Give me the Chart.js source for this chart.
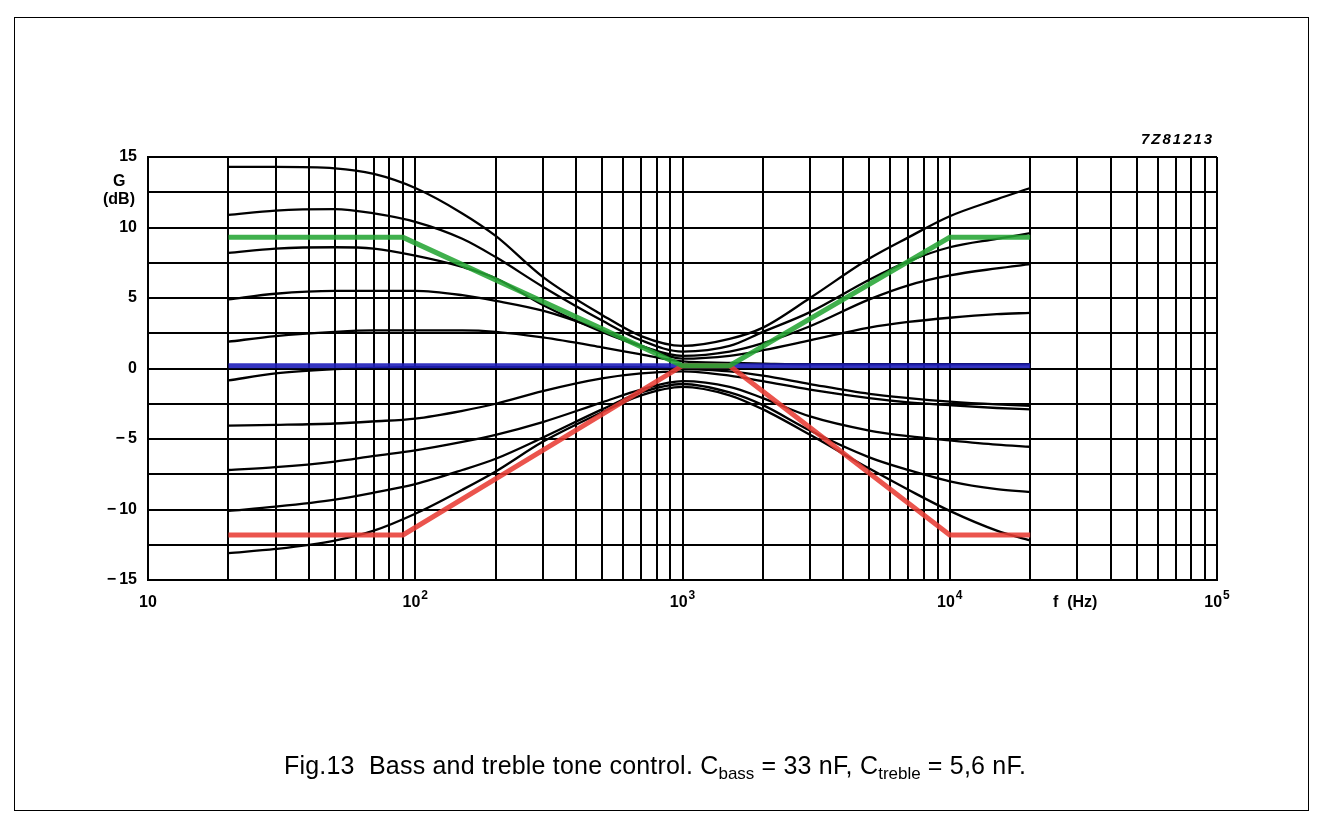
<!DOCTYPE html>
<html>
<head>
<meta charset="utf-8">
<title>Fig.13 Bass and treble tone control</title>
<script src="https://cdn.jsdelivr.net/npm/chart.js@4.4.1/dist/chart.umd.min.js"></script>
<style>
    body { margin: 0; background: #fff; font-family: "Liberation Sans", Arial, sans-serif; }
    #page { position: relative; width: 1323px; height: 828px; overflow: hidden; }
    #frame { position: absolute; left: 14px; top: 17px; width: 1293px; height: 792px; border: 1px solid #000; }
    #toneChart { position: absolute; left: 0; top: 0; }
    .lbl { position: absolute; color: #000; font-weight: bold; font-size: 16px; white-space: nowrap; }
    #code { left: 1141px; top: 130px; font-style: italic; font-size: 15px; letter-spacing: 2px; }
    #gLabel { left: 113px; top: 172px; }
    #dbLabel { left: 103px; top: 190px; }
    #fLabel { left: 1053px; top: 593px; }
    #caption { position: absolute; left: 284px; top: 751px; font-size: 25px; letter-spacing: 0.2px; white-space: nowrap; color: #000; }
    #caption sub { font-size: 17px; vertical-align: -5px; line-height: 0; letter-spacing: 0; }
</style>
</head>
<body>
<div id="page">
    <div id="frame"></div>
    <canvas id="toneChart" width="1323" height="828"></canvas>
    <div class="lbl" id="code">7Z81213</div>
    <div class="lbl" id="gLabel">G</div>
    <div class="lbl" id="dbLabel">(dB)</div>
    <div class="lbl" id="fLabel">f&nbsp;&nbsp;(Hz)</div>
    <div id="caption">Fig.13&nbsp;&nbsp;Bass and treble tone control. C<sub>bass</sub> = 33 nF, C<sub>treble</sub> = 5,6 nF.</div>
</div>
<script>
    'use strict';

    var freqs = [20, 30, 50, 70, 100, 150, 200, 300, 500, 700, 1000, 1500, 2000, 3000, 5000, 7000, 10000, 15000, 20000];

    // gain (dB), boost family
    var boostMax  = [14.3, 14.3, 14.2, 13.8, 12.8, 11.0, 9.4, 6.5, 3.8, 2.3, 1.6, 2.1, 2.9, 5.0, 7.8, 9.3, 10.8, 12.0, 12.8];
    var boost2    = [10.9, 11.2, 11.3, 11.0, 10.4, 9.2, 7.9, 5.8, 3.4, 2.0, 1.2, 1.6, 2.6, 4.0, 6.3, 7.6, 8.6, 9.2, 9.6];
    var boost3    = [8.2, 8.5, 8.6, 8.5, 8.0, 7.2, 6.4, 4.5, 2.6, 1.6, 0.9, 1.2, 1.8, 3.0, 4.9, 5.9, 6.6, 7.1, 7.4];
    var boost4    = [4.9, 5.3, 5.5, 5.5, 5.5, 5.2, 4.8, 4.1, 2.7, 1.6, 0.7, 0.9, 1.3, 2.0, 2.9, 3.3, 3.6, 3.85, 3.95];
    var boost5    = [1.9, 2.3, 2.6, 2.7, 2.7, 2.7, 2.6, 2.2, 1.5, 1.0, 0.5, 0.4, 0.35, 0.3, 0.3, 0.3, 0.3, 0.3, 0.3];
    // gain (dB), cut family
    var cut1      = [-0.85, -0.35, -0.05, 0.05, 0.1, 0.1, 0.1, 0.1, 0.1, 0.1, 0.0, -0.2, -0.5, -1.1, -1.8, -2.1, -2.35, -2.55, -2.65];
    var cut2      = [-4.05, -4.0, -3.9, -3.75, -3.55, -3.0, -2.5, -1.6, -0.7, -0.35, -0.2, -0.5, -0.9, -1.5, -2.1, -2.4, -2.6, -2.8, -2.9];
    var cut3      = [-7.2, -7.0, -6.6, -6.2, -5.8, -5.2, -4.7, -3.8, -2.4, -1.5, -0.9, -1.3, -2.1, -3.4, -4.4, -4.8, -5.1, -5.4, -5.55];
    var cut4      = [-10.1, -9.8, -9.3, -8.8, -8.2, -7.2, -6.4, -4.9, -2.9, -1.7, -1.1, -1.7, -2.6, -4.4, -6.3, -7.2, -8.0, -8.55, -8.75];
    var cutMax    = [-13.1, -12.8, -12.2, -11.5, -10.3, -8.6, -7.3, -5.2, -3.1, -1.9, -1.3, -1.9, -2.9, -4.7, -7.1, -8.6, -10.1, -11.5, -12.2];

    // coloured overlay lines
    var limitFreqs = [20, 90, 1000, 1500, 10000, 20000];
    var greenGain  = [9.3, 9.3, 0.2, 0.2, 9.3, 9.3];
    var redGain    = [-11.8, -11.8, 0.2, 0.2, -11.8, -11.8];
    var flatFreqs  = [20, 20000];
    var flatGain   = [0.2, 0.2];

    // axis grid / labels
    var xGrid = [10, 20, 30, 40, 50, 60, 70, 80, 90,
                 100, 200, 300, 400, 500, 600, 700, 800, 900,
                 1000, 2000, 3000, 4000, 5000, 6000, 7000, 8000, 9000,
                 10000, 20000, 30000, 40000, 50000, 60000, 70000, 80000, 90000, 100000];
    var decadeValues = [10, 100, 1000, 10000, 100000];
    var decadeExps   = ['', '2', '3', '4', '5'];
    var yGrid = [-15, -12.5, -10, -7.5, -5, -2.5, 0, 2.5, 5, 7.5, 10, 12.5, 15];

    function points(xs, ys) {
        return xs.map(function (f, i) { return { x: f, y: ys[i] }; });
    }

    function blackCurve(values) {
        return {
            data: points(freqs, values),
            borderColor: '#000',
            borderWidth: 2.3,
            cubicInterpolationMode: 'monotone',
            pointRadius: 0,
            fill: false
        };
    }

    var decadeLabels = {
        id: 'decadeLabels',
        afterDraw: function (chart) {
            var ctx = chart.ctx;
            var xs = chart.scales.x;
            var base = xs.top + 27;
            var bigFont = 'bold 16px "Liberation Sans", Arial, sans-serif';
            var smallFont = 'bold 12px "Liberation Sans", Arial, sans-serif';
            ctx.save();
            ctx.fillStyle = '#000';
            ctx.textAlign = 'left';
            ctx.textBaseline = 'alphabetic';
            for (var i = 0; i < decadeValues.length; i++) {
                var px = xs.getPixelForValue(decadeValues[i]);
                ctx.font = bigFont;
                var wBase = ctx.measureText('10').width;
                ctx.font = smallFont;
                var wExp = decadeExps[i] ? ctx.measureText(decadeExps[i]).width + 1 : 0;
                var left = px - (wBase + wExp) / 2;
                ctx.font = bigFont;
                ctx.fillText('10', left, base);
                if (decadeExps[i]) {
                    ctx.font = smallFont;
                    ctx.fillText(decadeExps[i], left + wBase + 1, base - 8);
                }
            }
            ctx.restore();
        }
    };

    var datasets = [
        { data: points(limitFreqs, greenGain), borderColor: 'rgba(38, 165, 52, 0.88)', borderWidth: 5, tension: 0, pointRadius: 0 },
        { data: points(limitFreqs, redGain), borderColor: 'rgba(232, 60, 52, 0.88)', borderWidth: 5, tension: 0, pointRadius: 0 },
        { data: points(flatFreqs, flatGain), borderColor: 'rgba(30, 30, 185, 0.9)', borderWidth: 5, tension: 0, pointRadius: 0 },
        blackCurve(boostMax),
        blackCurve(boost2),
        blackCurve(boost3),
        blackCurve(boost4),
        blackCurve(boost5),
        blackCurve(cut1),
        blackCurve(cut2),
        blackCurve(cut3),
        blackCurve(cut4),
        blackCurve(cutMax)
    ];

    var toneChart = new Chart(document.getElementById('toneChart'), {
        type: 'line',
        data: { datasets: datasets },
        options: {
            responsive: false,
            animation: false,
            events: [],
            layout: { padding: { left: 88, top: 157, right: 106, bottom: 208 } },
            plugins: { legend: { display: false }, tooltip: { enabled: false } },
            scales: {
                x: {
                    type: 'logarithmic',
                    min: 10,
                    max: 100000,
                    afterBuildTicks: function (scale) {
                        scale.ticks = xGrid.map(function (v) { return { value: v }; });
                    },
                    afterFit: function (scale) { scale.height = 40; },
                    ticks: { display: false },
                    grid: { color: '#000', lineWidth: 2, drawTicks: false },
                    border: { color: '#000', width: 2 }
                },
                y: {
                    min: -15,
                    max: 15,
                    afterBuildTicks: function (scale) {
                        scale.ticks = yGrid.map(function (v) { return { value: v }; });
                    },
                    afterFit: function (scale) { scale.width = 60; },
                    ticks: {
                        autoSkip: false,
                        padding: 11,
                        color: '#000',
                        font: { family: '"Liberation Sans", Arial, sans-serif', size: 16, weight: 'bold' },
                        callback: function (v) {
                            if (v % 5 !== 0) return '';
                            return v < 0 ? '\u2212\u2009' + Math.abs(v) : String(v);
                        }
                    },
                    grid: { color: '#000', lineWidth: 2, drawTicks: false },
                    border: { color: '#000', width: 2 }
                }
            }
        },
        plugins: [decadeLabels]
    });
</script>
</body>
</html>
